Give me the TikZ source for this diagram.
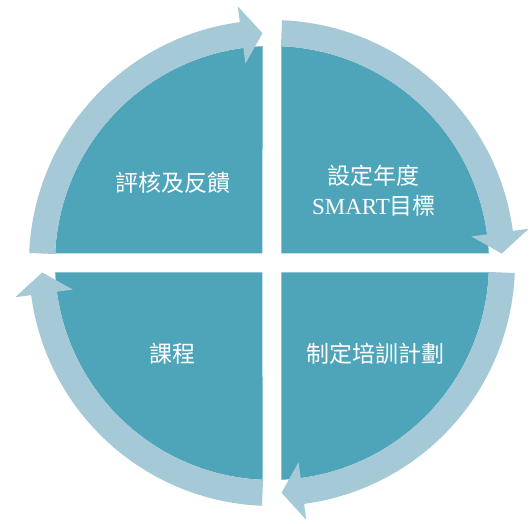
\documentclass[tikz,border=0pt]{standalone}
\usepackage{fontspec}
\setmainfont{Liberation Serif}
\newfontfamily\cjk{Noto Sans CJK TC}
\definecolor{pieblue}{RGB}{78,165,185}
\definecolor{arrowlight}{RGB}{165,201,214}
\begin{document}
\begin{tikzpicture}[x=1pt,y=1pt,
  quad/.style={fill=pieblue,draw=none},
  cyc/.style={fill=arrowlight,draw=none},
  lbl/.style={text=white,font=\fontsize{23}{30}\selectfont,align=center,inner sep=0pt}]
\useasboundingbox (-272,-261) rectangle (259,263);
\pgfmathsetmacro{\g}{9.5}
\pgfmathsetmacro{\R}{217}
\pgfmathsetmacro{\qa}{asin(\g/\R)}
\pgfmathsetmacro{\sa}{asin(\g/230)}
\pgfmathsetmacro{\st}{180-\sa}
\pgfmathsetmacro{\en}{90+\sa}
\pgfmathsetmacro{\hb}{\en+21/230*180/pi}
\foreach \k/\nm in {0/tl,1/tr,2/br,3/bl}{
  \begin{scope}[rotate=-90*\k]
    \fill[quad] (\g*-1,\g) -- (90+\qa:\R) arc[start angle=90+\qa,end angle=180-\qa,radius=\R] -- cycle;
    \fill[cyc] (\st:243) arc[start angle=\st,end angle=\hb,radius=243]
      -- (\hb:259) -- (\en:230) coordinate (tip\nm) -- (\hb:201) -- (\hb:217)
      arc[start angle=\hb,end angle=\st,radius=217] -- cycle;
  \end{scope}
}
\node[lbl] (tl) at (-99,80.5) {\cjk 評核及反饋};
\node[lbl] (tr) at (102,72) {\cjk 設定年度\\SMART\cjk 目標};
\node[lbl] (br) at (103.5,-91) {\cjk 制定培訓計劃};
\node[lbl] (bl) at (-99,-91) {\cjk 課程};
\end{tikzpicture}
\end{document}
